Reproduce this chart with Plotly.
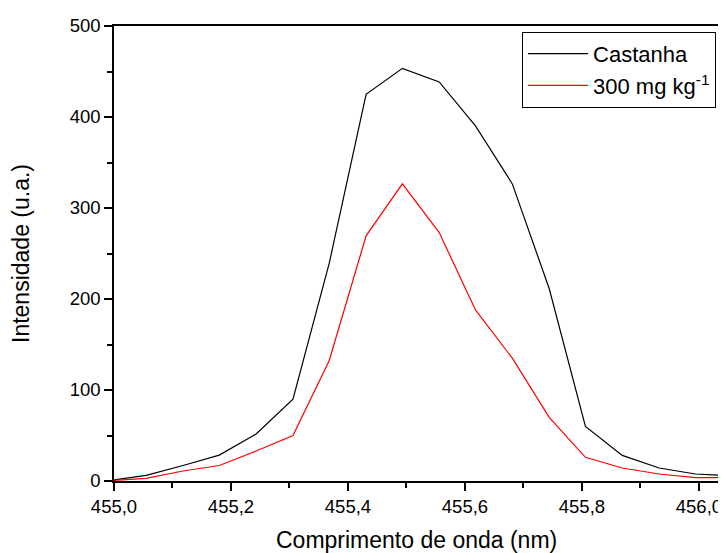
import plotly.graph_objects as go

wavelength = [454.993, 455.055, 455.118, 455.180, 455.243, 455.306, 455.368, 455.431,
              455.493, 455.556, 455.618, 455.681, 455.744, 455.806, 455.869, 455.932,
              455.994, 456.057]
castanha = [0.5, 6.1, 17.0, 28.5, 51.6, 90.0, 239.4, 425.0,
            453.5, 438.5, 390.2, 326.5, 211.5, 60.0, 28.1, 14.3,
            7.7, 5.5]
mg300 = [0.5, 2.9, 11.0, 17.0, 33.0, 50.0, 132.4, 269.4,
         326.5, 273.0, 188.0, 135.0, 70.0, 26.0, 14.3, 7.7,
         3.8, 3.6]
series_names = ["Castanha", "300 mg kg<sup>-1</sup>"]
x_ticks = [455.0, 455.2, 455.4, 455.6, 455.8, 456.0]
y_ticks = [0, 100, 200, 300, 400, 500]
x_title = "Comprimento de onda (nm)"
y_title = "Intensidade (u.a.)"

FONT = "Liberation Sans, Arial, sans-serif"

fig = go.Figure()
fig.add_trace(go.Scatter(x=wavelength, y=castanha, mode="lines", name=series_names[0],
                         line=dict(color="black", width=1.2)))
fig.add_trace(go.Scatter(x=wavelength, y=mg300, mode="lines", name=series_names[1],
                         line=dict(color="#ff0000", width=1.2)))

# page body has an 8px margin, so the figure is offset by (8, 8)
fig.update_layout(
    width=726, height=553,
    margin=dict(l=106, r=0, t=18, b=80, pad=0),
    paper_bgcolor="white", plot_bgcolor="white",
    separators=",.",
    font=dict(family=FONT, color="black"),
    showlegend=True,
    legend=dict(x=0.971, y=0.987, xanchor="right", yanchor="top",
                bordercolor="black", borderwidth=1, bgcolor="white",
                font=dict(size=22, family=FONT),
                itemwidth=60),
    annotations=[dict(text=x_title, xref="paper", yref="paper", x=0.488, y=-0.129,
                      xanchor="center", yanchor="middle", showarrow=False,
                      font=dict(size=23, family=FONT, color="black"))],
)
fig.update_xaxes(
    range=[455.0, 456.060], tickvals=x_ticks, tickformat=".1f",
    automargin=False,
    showgrid=False, zeroline=False,
    showline=True, linecolor="black", linewidth=1.5, mirror=True,
    ticks="outside", ticklen=8, tickwidth=1.5, tickcolor="black",
    tickfont=dict(size=18.5, family=FONT),
    minor=dict(ticks="outside", ticklen=5, tickwidth=1.5, tickcolor="black", dtick=0.1, showgrid=False),
)
fig.update_yaxes(
    range=[0, 500], tickvals=y_ticks,
    automargin=False,
    showgrid=False, zeroline=False,
    showline=True, linecolor="black", linewidth=1.5,
    ticks="outside", ticklen=8, tickwidth=1.5, tickcolor="black",
    tickfont=dict(size=18.5, family=FONT),
    minor=dict(ticks="outside", ticklen=5, tickwidth=1.5, tickcolor="black", dtick=50, showgrid=False),
    title=dict(text=y_title, font=dict(size=23, family=FONT), standoff=36),
)

fig.write_html("out.html")
